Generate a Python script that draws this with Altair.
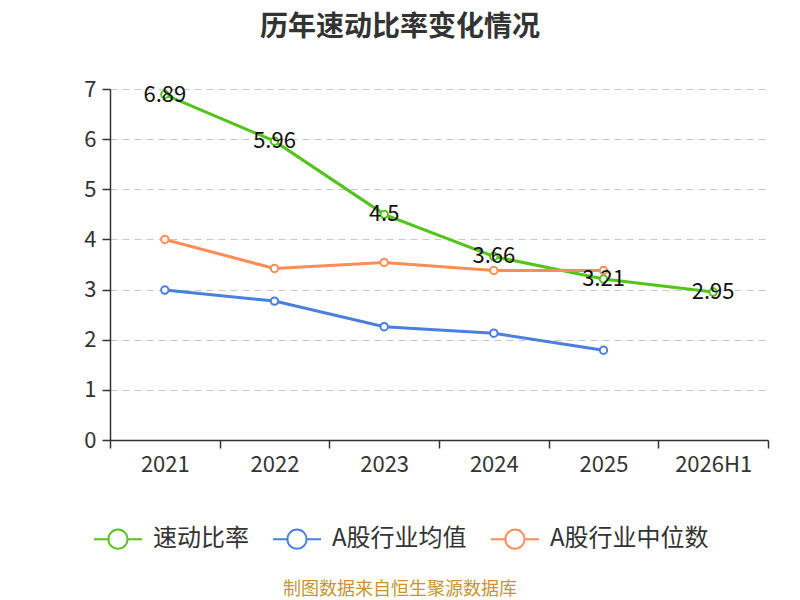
import altair as alt
import pandas as pd

years = ["2021", "2022", "2023", "2024", "2025", "2026H1"]
quick_ratio = [6.89, 5.96, 4.5, 3.66, 3.21, 2.95]
industry_mean = [2.99, 2.77, 2.26, 2.13, 1.79]
industry_median = [4.00, 3.42, 3.54, 3.38, 3.38]

series_names = ["速动比率", "A股行业均值", "A股行业中位数"]
series_colors = ["#52c41a", "#4a7fe0", "#ff8c55"]

rows = []
for y, v in zip(years, quick_ratio):
    rows.append({"year": y, "value": v, "series": series_names[0], "order": 0})
for y, v in zip(years, industry_mean):
    rows.append({"year": y, "value": v, "series": series_names[1], "order": 1})
for y, v in zip(years, industry_median):
    rows.append({"year": y, "value": v, "series": series_names[2], "order": 2})
df = pd.DataFrame(rows)

FONT = "Noto Sans CJK SC"

x_enc = alt.X("year:N", sort=years, title=None,
              scale=alt.Scale(domain=years, paddingInner=0, paddingOuter=0),
              axis=alt.Axis(labelAngle=0, labelFontSize=22, labelColor="#333",
                            labelPadding=6, tickBand="extent", tickSize=8,
                            tickColor="#333", domainColor="#333", grid=False,
                            tickWidth=1.5, domainWidth=1.5))
y_enc = alt.Y("value:Q", title=None,
              scale=alt.Scale(domain=[0, 7], nice=False),
              axis=alt.Axis(values=[0, 1, 2, 3, 4, 5, 6, 7], labelFontSize=22,
                            labelColor="#333", tickSize=8, tickColor="#333",
                            domainColor="#333", labelPadding=6,
                            tickWidth=1.5, domainWidth=1.5,
                            grid=True, gridColor="#c8c8c8", gridDash=[7, 5],
                            gridWidth=1.2))
color_enc = alt.Color("series:N",
                      scale=alt.Scale(domain=series_names, range=series_colors),
                      sort=series_names,
                      legend=alt.Legend(title=None, orient="none", direction="horizontal",
                                        legendX=-17, legendY=425,
                                        labelFontSize=24, labelColor="#333",
                                        labelFont=FONT,
                                        symbolType="M-1,0L-0.4,0M0.4,0L1,0M0.4,0A0.4,0.4,0,1,1,-0.4,0A0.4,0.4,0,1,1,0.4,0",
                                        symbolSize=2304, symbolStrokeWidth=2,
                                        symbolFillColor="white",
                                        labelOffset=10, columnPadding=20))

base = alt.Chart(df)

lines = base.mark_line(strokeWidth=3).encode(
    x=x_enc, y=y_enc, color=color_enc, order=alt.Order("order:Q"))
points = base.mark_point(filled=False, fill="white", fillOpacity=1, size=55,
                         strokeWidth=2, opacity=1).encode(x=x_enc, y=y_enc, color=color_enc)
labels = base.transform_filter(alt.datum.series == series_names[0]).mark_text(
    fontSize=22, color="#111", baseline="middle", align="center", font=FONT).encode(
    x=x_enc, y=y_enc, text=alt.Text("value:Q"))

source = alt.Chart(pd.DataFrame({"t": ["制图数据来自恒生聚源数据库"]})).mark_text(
    fontSize=18, color="#c8952a", font=FONT, align="center", baseline="middle").encode(
    x=alt.value(290), y=alt.value(501), text="t:N")

chart = alt.layer(lines, points, labels, source).properties(
    width=658, height=351,
    title=alt.TitleParams("历年速动比率变化情况", fontSize=28, fontWeight="bold",
                          color="#333", font=FONT, anchor="middle", dx=-39, offset=36),
    autosize=alt.AutoSizeParams(type="none"),
    padding={"left": 102, "top": 81, "right": 24, "bottom": 160},
).configure_view(stroke=None).configure_axis(labelFont=FONT)

chart.save("out.html", embed_options={"renderer": "svg", "actions": False})
